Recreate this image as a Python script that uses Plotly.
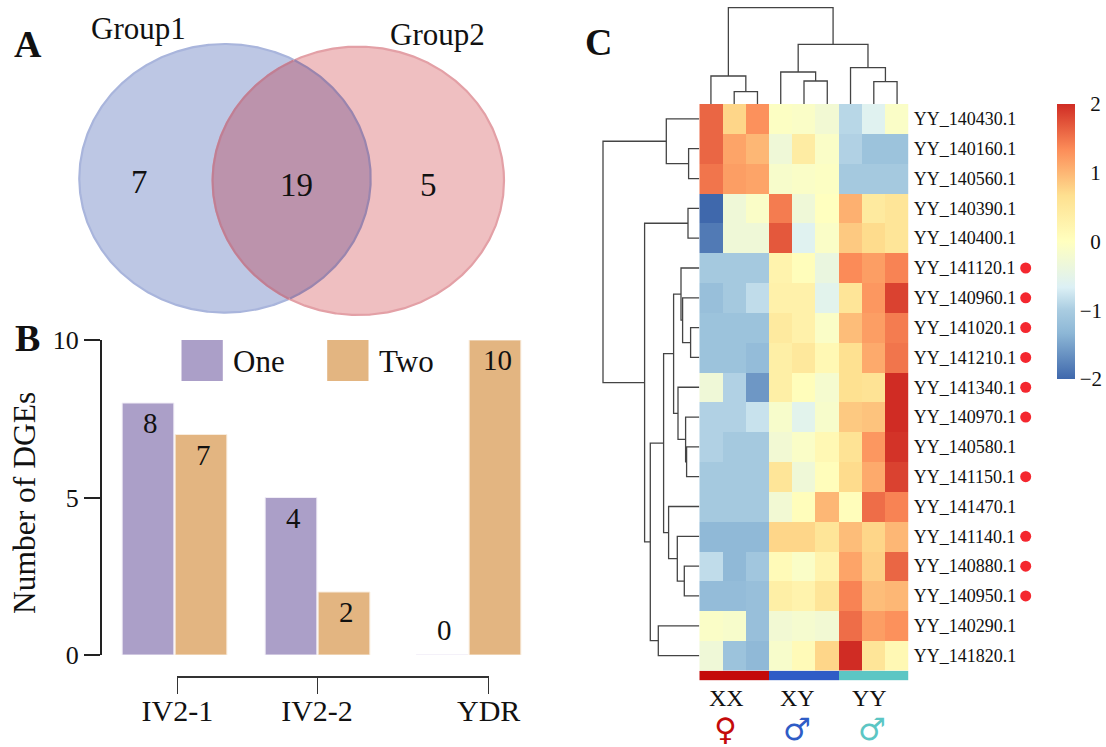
import numpy as np
import plotly.graph_objects as go

W, H = 1106, 747
SERIF = "Liberation Serif, Times New Roman, serif"

# ---------- Panel A data ----------
venn_sets = ["Group1", "Group2"]
venn_counts = [7, 19, 5]
venn_e1 = (225.0, 178.3, 145.7, 134.3)
venn_e2 = (358.3, 180.8, 145.7, 134.2)

# ---------- Panel B data ----------
bar_groups = ["IV2-1", "IV2-2", "YDR"]
bar_one = [8, 5, 0]
bar_two = [7, 2, 10]
bar_one_labels = ["8", "4", "0"]
bar_two_labels = ["7", "2", "10"]

# ---------- Panel C data ----------
genes = ["YY_140430.1", "YY_140160.1", "YY_140560.1", "YY_140390.1", "YY_140400.1",
         "YY_141120.1", "YY_140960.1", "YY_141020.1", "YY_141210.1", "YY_141340.1",
         "YY_140970.1", "YY_140580.1", "YY_141150.1", "YY_141470.1", "YY_141140.1",
         "YY_140880.1", "YY_140950.1", "YY_140290.1", "YY_141820.1"]
marked_genes = ["YY_141120.1", "YY_140960.1", "YY_141020.1", "YY_141210.1", "YY_141340.1",
                "YY_140970.1", "YY_141150.1", "YY_141140.1", "YY_140880.1", "YY_140950.1"]
samples = ["XX1", "XX2", "XX3", "XY1", "XY2", "XY3", "YY1", "YY2", "YY3"]
expr = [
    [1.6, 0.75, 1.3, -0.05, -0.1, -0.25, -0.9, -0.6, -0.1],
    [1.6, 1.15, 1.0, -0.3, 0.4, -0.1, -0.95, -1.15, -1.15],
    [1.5, 1.2, 1.15, -0.15, -0.1, -0.05, -1.05, -1.05, -1.05],
    [-2.0, -0.3, -0.1, 1.45, -0.3, 0.0, 1.05, 0.45, 0.55],
    [-1.85, -0.3, -0.3, 1.7, -0.6, -0.1, 0.85, 0.7, 0.55],
    [-1.05, -1.05, -1.05, 0.25, 0.05, -0.4, 1.35, 1.2, 1.4],
    [-1.2, -1.05, -0.85, 0.3, 0.3, -0.55, 0.55, 1.25, 1.85],
    [-1.15, -1.15, -1.15, 0.45, 0.3, -0.1, 0.95, 1.2, 1.45],
    [-1.15, -1.15, -1.25, 0.35, 0.5, 0.15, 0.65, 1.1, 1.5],
    [-0.3, -0.95, -1.6, 0.35, 0.05, -0.2, 0.65, 0.6, 2.0],
    [-0.95, -0.95, -0.8, -0.15, -0.55, -0.15, 0.85, 0.9, 2.0],
    [-0.95, -1.05, -1.05, -0.25, -0.1, 0.15, 0.6, 1.25, 1.95],
    [-1.05, -1.05, -1.05, 0.55, -0.3, 0.05, 0.7, 1.1, 1.85],
    [-1.05, -1.05, -1.05, -0.25, 0.05, 1.0, 0.05, 1.55, 1.4],
    [-1.3, -1.3, -1.3, 0.75, 0.75, 0.55, 0.95, 0.75, 1.0],
    [-0.85, -1.3, -1.1, 0.1, -0.1, 0.25, 1.15, 0.8, 1.6],
    [-1.25, -1.25, -1.2, 0.35, 0.25, 0.55, 1.4, 0.95, 1.0],
    [-0.1, -0.15, -1.2, -0.25, -0.2, -0.25, 1.55, 1.2, 1.3],
    [-0.3, -1.15, -1.3, -0.15, 0.1, 0.75, 2.0, 0.55, 0.15],
]
sample_groups = [0, 0, 0, 1, 1, 1, 2, 2, 2]
group_names = ["XX", "XY", "YY"]
group_symbols = ["\u2640", "\u2642", "\u2642"]
group_colors = ["#c40a0a", "#2f5cc6", "#5cc6c4"]

# Dendrogram merges: (child a, child b, height); nodes after the leaves take the next ids
col_merges = [(1, 2, 12.3), (0, 9, 28.0), (4, 5, 23.0), (3, 11, 32.0), (7, 8, 22.3),
              (6, 13, 36.3), (12, 14, 59.7), (10, 15, 96.3)]
row_merges = [(1, 2, 10.7), (0, 19, 33.0), (3, 4, 11.3), (7, 8, 8.7), (6, 22, 16.7),
              (5, 23, 18.3), (11, 12, 12.7), (10, 25, 13.7), (9, 26, 21.3), (24, 27, 25.7),
              (15, 16, 15.0), (14, 29, 22.0), (13, 30, 30.7), (28, 31, 35.7), (17, 18, 41.0),
              (32, 33, 49.0), (21, 34, 54.7), (20, 35, 96.3)]

heat_scale = [[0, "#3f68ac"], [1/6, "#8db7d6"], [0.25, "#a9cce1"], [2/6, "#dcf0f5"], [3/6, "#ffffbf"],
              [4/6, "#fee090"], [5/6, "#fc8d59"], [1, "#d02c24"]]


# ---------- helpers ----------
def dx(x0, x1):
    return [x0 / W, x1 / W]


def dy(y_top, y_bottom):
    return [1 - y_bottom / H, 1 - y_top / H]


def ellipse(e, n=721):
    t = np.linspace(0, 2 * np.pi, n)
    return e[0] + e[2] * np.cos(t), e[1] + e[3] * np.sin(t)


def inside(x, y, e):
    return ((x - e[0]) / e[2]) ** 2 + ((y - e[1]) / e[3]) ** 2 <= 1


def dendro(merges, n):
    pos = {i: (float(i), 0.0) for i in range(n)}
    p, h = [], []
    for k, (a, b, ht) in enumerate(merges):
        pa, ha = pos[a]
        pb, hb = pos[b]
        p += [pa, pa, pb, pb, None]
        h += [ha, ht, ht, hb, None]
        pos[n + k] = ((pa + pb) / 2, ht)
    return p, h


fig = go.Figure()
annots = []
shapes = []


def text(t, x, y, size, color="#111111", bold=False, family=SERIF, angle=0):
    annots.append(dict(text=f"<b>{t}</b>" if bold else t, x=x / W, y=1 - y / H, xref="paper", yref="paper",
                       showarrow=False, xanchor="center", yanchor="middle", textangle=angle,
                       font=dict(family=family, size=size, color=color)))


# ---------- Panel A ----------
x1, y1 = ellipse(venn_e1)
x2, y2 = ellipse(venn_e2)
fig.add_trace(go.Scatter(x=x1, y=y1, mode="lines", fill="toself", fillcolor="#bdc7e4",
                         line=dict(color="#a9b5dc", width=2.2), xaxis="x", yaxis="y", hoverinfo="skip"))
fig.add_trace(go.Scatter(x=x2, y=y2, mode="lines", fill="toself", fillcolor="#efbfc1",
                         line=dict(color="#e3a0a6", width=2.2), xaxis="x", yaxis="y", hoverinfo="skip"))
m1, m2 = inside(x1, y1, venn_e2), inside(x2, y2, venn_e1)
lx = np.r_[x1[m1], x2[m2]]
ly = np.r_[y1[m1], y2[m2]]
order = np.argsort(np.arctan2(ly - ly.mean(), lx - lx.mean()))
fig.add_trace(go.Scatter(x=lx[order], y=ly[order], mode="lines", fill="toself", fillcolor="#bc93ac",
                         line=dict(width=0), xaxis="x", yaxis="y", hoverinfo="skip"))
# edges that cross the shared region
i1 = np.argsort(np.arctan2(y1[m1] - ly.mean(), x1[m1] - lx.mean()))
i2 = np.argsort(np.arctan2(y2[m2] - ly.mean(), -(x2[m2] - lx.mean())))
fig.add_trace(go.Scatter(x=x1[m1][i1], y=y1[m1][i1], mode="lines", line=dict(color="#9a85ae", width=2.2),
                         xaxis="x", yaxis="y", hoverinfo="skip"))
fig.add_trace(go.Scatter(x=x2[m2][i2], y=y2[m2][i2], mode="lines", line=dict(color="#c07f94", width=2.2),
                         xaxis="x", yaxis="y", hoverinfo="skip"))
text(venn_sets[0], 138, 28, 31)
text(venn_sets[1], 437, 34, 31)
text(str(venn_counts[0]), 139, 182, 33)
text(str(venn_counts[1]), 296, 185, 33)
text(str(venn_counts[2]), 428, 185, 33)

# ---------- Panel B ----------
one_pos = [148.0, 291.0, 442.0]
two_pos = [201.0, 344.0, 495.0]
tick_pos = [177.4, 317.0, 488.7]
fig.add_trace(go.Bar(x=one_pos, y=bar_one, width=51.7, marker=dict(color="#ab9fc8", line=dict(color="#f1edf6", width=1)),
                     xaxis="x2", yaxis="y2", hoverinfo="skip"))
fig.add_trace(go.Bar(x=two_pos, y=bar_two, width=51.7, marker=dict(color="#e3b581", line=dict(color="#f8ecdd", width=1)),
                     xaxis="x2", yaxis="y2", hoverinfo="skip"))
for xs, ys, labs in ((one_pos, bar_one, bar_one_labels), (two_pos, bar_two, bar_two_labels)):
    for x, y, lab in zip(xs, ys, labs):
        annots.append(dict(text=lab, x=x, y=y, xref="x2", yref="y2", showarrow=False, xanchor="center",
                           yanchor="middle", xshift=2, yshift=25 if y == 0 else -20,
                           font=dict(family=SERIF, size=29, color="#111111")))
# bracket axis carrying the group names
fig.add_trace(go.Scatter(x=tick_pos, y=[0, 0, 0], mode="markers", marker=dict(opacity=0), xaxis="x3", yaxis="y2",
                         hoverinfo="skip"))
text("Number of DGEs", 24, 503, 31.5, angle=-90)

# legend
for (label, color, sx, tx) in (("One", "#ab9fc8", 181.5, 259), ("Two", "#e3b581", 327.2, 406.5)):
    shapes.append(dict(type="rect", xref="paper", yref="paper", x0=sx / W, x1=(sx + 41.3) / W,
                       y0=1 - 381 / H, y1=1 - 340 / H, fillcolor=color, line=dict(width=0)))
    text(label, tx, 361, 31)

# ---------- Panel C ----------
fig.add_trace(go.Heatmap(z=expr, x=samples, y=genes, zmin=-2, zmax=2, colorscale=heat_scale, xaxis="x4", yaxis="y4",
                         hoverinfo="skip",
                         colorbar=dict(x=1056.7 / W, xanchor="left", y=1 - 104 / H, yanchor="top", len=275, lenmode="pixels",
                                       thickness=18, thicknessmode="pixels", xpad=0, ypad=0, outlinewidth=0, ticks="",
                                       tickvals=[2, 1, 0, -1, -2],
                                       ticktext=["\u00a0\u00a02", "\u00a0\u00a01", "\u00a0\u00a00", "\u22121", "\u22122"],
                                       tickfont=dict(family=SERIF, size=21, color="#111111"))))
cp, ch = dendro(col_merges, len(samples))
fig.add_trace(go.Scatter(x=cp, y=ch, mode="lines", line=dict(color="#444444", width=1.3), xaxis="x5", yaxis="y5",
                         hoverinfo="skip"))
rp, rh = dendro(row_merges, len(genes))
fig.add_trace(go.Scatter(x=rh, y=rp, mode="lines", line=dict(color="#444444", width=1.3), xaxis="x6", yaxis="y6",
                         hoverinfo="skip"))
fig.add_trace(go.Heatmap(z=[sample_groups], x=samples, y=["group"], zmin=0, zmax=2, showscale=False,
                         colorscale=[[0, group_colors[0]], [0.5, group_colors[1]], [1, group_colors[2]]],
                         xaxis="x7", yaxis="y7", hoverinfo="skip"))
fig.add_trace(go.Scatter(x=[0] * len(marked_genes), y=marked_genes, mode="markers",
                         marker=dict(color="#f4272f", size=11, line=dict(width=0)), xaxis="x8", yaxis="y4", hoverinfo="skip"))

for name, sym, col, xt, xs in zip(group_names, group_symbols, group_colors, (726.7, 797, 869), (725, 797, 872)):
    text(name, xt, 698, 24)
    text(sym, xs, 728.5, 31, color=col, family="DejaVu Sans")

# panel letters
text("A", 28, 44, 38, bold=True)
text("B", 27, 338, 38, bold=True)
text("C", 598, 42, 38, bold=True)

HM_X = dx(699.3, 908.7)
HM_Y = dy(104, 670.5)
hidden = dict(visible=False, showgrid=False, zeroline=False)
fig.update_layout(
    width=W, height=H, margin=dict(l=0, r=0, t=0, b=0, autoexpand=False), autosize=False,
    paper_bgcolor="white", plot_bgcolor="rgba(0,0,0,0)", showlegend=False, barmode="overlay",
    annotations=annots, shapes=shapes,
    xaxis=dict(domain=dx(60, 520), range=[60, 520], **hidden),
    yaxis=dict(domain=dy(30, 330), range=[330, 30], **hidden),
    xaxis2=dict(domain=dx(100, 530), range=[100, 530], **hidden),
    yaxis2=dict(domain=dy(340, 655), range=[0, 10], anchor="free", position=100.5 / W, side="left",
                tickvals=[0, 5, 10], ticks="outside", ticklen=15.5, tickwidth=1.5, tickcolor="#222222",
                showline=True, linecolor="#222222", linewidth=2, showgrid=False, zeroline=False,
                tickfont=dict(family=SERIF, size=26, color="#111111")),
    xaxis3=dict(domain=dx(177.4, 488.7), range=[177.4, 488.7], anchor="free", position=1 - 677 / H,
                tickvals=tick_pos, ticktext=bar_groups, ticks="outside", ticklen=16, tickwidth=1.3, tickcolor="#333333",
                showline=True, linecolor="#333333", linewidth=1.5, showgrid=False, zeroline=False,
                ticklabelstandoff=-9, tickfont=dict(family=SERIF, size=30, color="#111111")),
    xaxis4=dict(domain=HM_X, anchor="y4", showticklabels=False, ticks="", showgrid=False, zeroline=False),
    yaxis4=dict(domain=HM_Y, anchor="x4", side="right", autorange="reversed", ticks="", showgrid=False, zeroline=False,
                tickfont=dict(family=SERIF, size=18, color="#111111"), ticklabelstandoff=4),
    xaxis5=dict(domain=HM_X, range=[-0.5, 8.5], **hidden),
    yaxis5=dict(domain=dy(7, 104), range=[0, 97], **hidden),
    xaxis6=dict(domain=dx(602, 699.3), range=[97.3, 0], **hidden),
    yaxis6=dict(domain=HM_Y, range=[18.5, -0.5], **hidden),
    xaxis7=dict(domain=HM_X, **hidden),
    yaxis7=dict(domain=dy(670.7, 680.2), **hidden),
    xaxis8=dict(domain=dx(1015.7, 1035.7), range=[-1, 1], anchor="y4", **hidden),
)
fig.write_html("out.html", post_script="document.body.style.margin='0';", config=dict(displayModeBar=False))
